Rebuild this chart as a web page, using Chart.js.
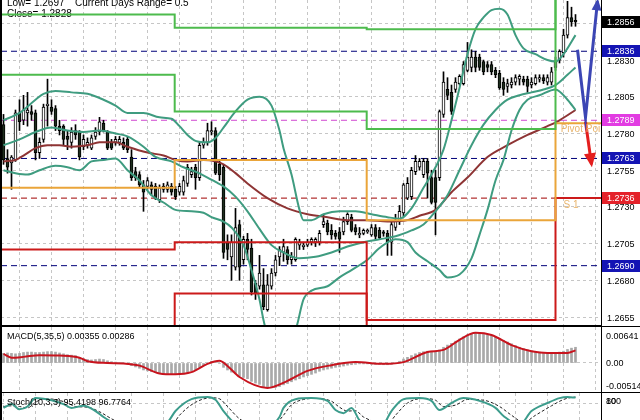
<!DOCTYPE html>
<html>
<head>
<meta charset="utf-8">
<script src="https://cdn.jsdelivr.net/npm/chart.js@4.4.1/dist/chart.umd.min.js"></script>
<style>
  html, body { margin: 0; padding: 0; background: #fff; overflow: hidden; width: 640px; height: 420px; }
  canvas { position: absolute; left: 0; }
  #main { top: 0; }
  #macd { top: 326px; }
  #stoch { top: 392px; }
</style>
</head>
<body>
<canvas id="main" width="640" height="326"></canvas>
<canvas id="macd" width="640" height="67"></canvas>
<canvas id="stoch" width="640" height="40"></canvas>
<script>
// candles (one per bar, left to right)
const open = [
  1.2786,1.2763,1.2760,1.2762,1.2794,1.2789,1.2794,1.2795,1.2794,1.2767,
  1.2776,1.2799,1.2798,1.2797,1.2785,1.2785,1.2778,1.2774,1.2782,1.2781,
  1.2771,1.2772,1.2770,1.2778,1.2781,1.2787,1.2781,1.2774,1.2774,1.2774,
  1.2774,1.2776,1.2764,1.2754,1.2752,1.2745,1.2744,1.2745,1.2744,1.2735,
  1.2742,1.2742,1.2744,1.2742,1.2740,1.2740,1.2746,1.2752,1.2757,1.2750,
  1.2772,1.2774,1.2781,1.2782,1.2759,1.2757,1.2706,1.2696,1.2689,1.2718,
  1.2694,1.2708,1.2702,1.2678,1.2676,1.2677,1.2660,1.2676,1.2685,1.2696,
  1.2699,1.2701,1.2694,1.2694,1.2704,1.2703,1.2704,1.2706,1.2706,1.2706,
  1.2718,1.2719,1.2714,1.2712,1.2713,1.2713,1.2720,1.2723,1.2716,1.2711,
  1.2712,1.2713,1.2711,1.2716,1.2714,1.2713,1.2712,1.2706,1.2716,1.2720,
  1.2726,1.2736,1.2737,1.2754,1.2757,1.2752,1.2761,1.2750,1.2750,1.2750,
  1.2793,1.2810,1.2808,1.2810,1.2814,1.2814,1.2823,1.2825,1.2832,1.2832,
  1.2829,1.2827,1.2827,1.2823,1.2821,1.2815,1.2812,1.2813,1.2815,1.2817,
  1.2817,1.2817,1.2813,1.2814,1.2817,1.2818,1.2815,1.2815,1.2825,1.2830,
  1.2835,1.2847,1.2859,1.2857
];
const high = [
  1.2793,1.2769,1.2765,1.2796,1.2803,1.2806,1.2808,1.2799,1.2796,1.2777,
  1.2800,1.2817,1.2803,1.2799,1.2789,1.2786,1.2782,1.2784,1.2786,1.2782,
  1.2779,1.2777,1.2779,1.2784,1.2791,1.2789,1.2782,1.2776,1.2778,1.2778,
  1.2777,1.2778,1.2769,1.2757,1.2754,1.2748,1.2750,1.2747,1.2746,1.2745,
  1.2746,1.2747,1.2746,1.2744,1.2746,1.2751,1.2759,1.2757,1.2759,1.2774,
  1.2777,1.2787,1.2788,1.2784,1.2762,1.2759,1.2711,1.2711,1.2729,1.2721,
  1.2710,1.2712,1.2708,1.2680,1.2697,1.2688,1.2684,1.2688,1.2697,1.2703,
  1.2708,1.2703,1.2699,1.2709,1.2708,1.2706,1.2708,1.2709,1.2709,1.2714,
  1.2725,1.2721,1.2718,1.2714,1.2716,1.2723,1.2726,1.2725,1.2718,1.2716,
  1.2715,1.2715,1.2718,1.2718,1.2716,1.2714,1.2714,1.2720,1.2725,1.2731,
  1.2746,1.2750,1.2757,1.2765,1.2763,1.2763,1.2763,1.2755,1.2755,1.2796,
  1.2822,1.2818,1.2813,1.2818,1.2820,1.2829,1.2842,1.2837,1.2836,1.2834,
  1.2830,1.2829,1.2829,1.2825,1.2823,1.2818,1.2817,1.2818,1.2820,1.2820,
  1.2819,1.2819,1.2818,1.2820,1.2820,1.2820,1.2820,1.2825,1.2832,1.2837,
  1.2851,1.2870,1.2866,1.2861
];
const low = [
  1.2759,1.2753,1.2742,1.2761,1.2782,1.2786,1.2785,1.2789,1.2762,1.2763,
  1.2774,1.2785,1.2793,1.2782,1.2779,1.2772,1.2769,1.2770,1.2776,1.2762,
  1.2769,1.2770,1.2769,1.2776,1.2779,1.2781,1.2769,1.2769,1.2772,1.2772,
  1.2769,1.2767,1.2748,1.2748,1.2743,1.2727,1.2742,1.2738,1.2735,1.2733,
  1.2740,1.2740,1.2738,1.2735,1.2738,1.2738,1.2744,1.2750,1.2742,1.2748,
  1.2770,1.2772,1.2779,1.2752,1.2748,1.2695,1.2694,1.2680,1.2687,1.2680,
  1.2691,1.2694,1.2670,1.2667,1.2674,1.2660,1.2659,1.2674,1.2683,1.2690,
  1.2693,1.2691,1.2691,1.2693,1.2701,1.2701,1.2703,1.2704,1.2703,1.2704,
  1.2716,1.2711,1.2708,1.2708,1.2699,1.2711,1.2718,1.2713,1.2711,1.2709,
  1.2711,1.2712,1.2710,1.2708,1.2708,1.2710,1.2697,1.2697,1.2714,1.2718,
  1.2724,1.2735,1.2735,1.2752,1.2755,1.2750,1.2736,1.2732,1.2711,1.2748,
  1.2791,1.2803,1.2793,1.2808,1.2813,1.2813,1.2822,1.2822,1.2822,1.2823,
  1.2820,1.2822,1.2820,1.2818,1.2810,1.2806,1.2808,1.2811,1.2813,1.2813,
  1.2813,1.2808,1.2811,1.2813,1.2815,1.2814,1.2813,1.2813,1.2823,1.2828,
  1.2832,1.2845,1.2853,1.2853
];
const close = [
  1.2762,1.2757,1.2764,1.2794,1.2788,1.2796,1.2796,1.2793,1.2767,1.2774,
  1.2798,1.2800,1.2795,1.2785,1.2782,1.2776,1.2776,1.2781,1.2779,1.2764,
  1.2776,1.2774,1.2777,1.2781,1.2788,1.2782,1.2770,1.2770,1.2776,1.2776,
  1.2770,1.2769,1.2750,1.2750,1.2745,1.2740,1.2748,1.2742,1.2736,1.2743,
  1.2744,1.2745,1.2740,1.2737,1.2744,1.2748,1.2757,1.2754,1.2750,1.2772,
  1.2774,1.2782,1.2782,1.2753,1.2752,1.2699,1.2701,1.2706,1.2716,1.2689,
  1.2708,1.2701,1.2672,1.2671,1.2685,1.2662,1.2677,1.2685,1.2694,1.2701,
  1.2703,1.2694,1.2696,1.2708,1.2706,1.2704,1.2706,1.2708,1.2708,1.2712,
  1.2720,1.2713,1.2711,1.2710,1.2708,1.2720,1.2725,1.2714,1.2713,1.2712,
  1.2714,1.2714,1.2716,1.2710,1.2709,1.2712,1.2706,1.2718,1.2721,1.2727,
  1.2745,1.2746,1.2755,1.2761,1.2761,1.2761,1.2753,1.2733,1.2733,1.2795,
  1.2815,1.2806,1.2795,1.2815,1.2819,1.2827,1.2832,1.2832,1.2825,1.2825,
  1.2822,1.2825,1.2822,1.2820,1.2811,1.2810,1.2814,1.2815,1.2818,1.2819,
  1.2815,1.2812,1.2815,1.2818,1.2818,1.2816,1.2818,1.2822,1.2829,1.2836,
  1.2847,1.2859,1.2856,1.2856
];

// price axis
const priceTicks = [1.2655, 1.2680, 1.2705, 1.2730, 1.2755, 1.2780, 1.2805, 1.2830, 1.2855];
const gridIdx = [0, 8, 16, 24, 32, 40, 48, 56, 64, 72, 80, 88, 96, 104, 112, 120, 128, 136, 144];

// daily pivot levels (step changes at the day breaks)
const pivotIdx = [-0.625, 42.8, 90.8, 138, 149.375];
const r2 = [1.2861, 1.2852, 1.2851, 1.2930, 1.2930];
const r1 = [1.2820, 1.2795, 1.2783, 1.2878, 1.2878];
const pp = [1.2743, 1.2762, 1.2721, 1.2787, 1.2787];
const s1 = [1.2701, 1.2706, 1.2653, 1.2736, 1.2736];
const s2 = [1.2624, 1.2671, 1.2592, 1.2640, 1.2640];

// horizontal dashed levels and the price tags on the axis
const levelVals = [1.2836, 1.2789, 1.2763, 1.2736, 1.2690];
const levelColors = ['#00007a', '#d048d0', '#00007a', '#a00000', '#00007a'];
const tagVals = [1.2856, 1.2836, 1.2789, 1.2763, 1.2736, 1.2690];
const tagColors = ['#000000', '#1414b4', '#e23ce2', '#1414b4', '#e4222a', '#1414b4'];

// bollinger bands and moving average (sampled along the curve)
const upIdx = [0,4,8,10,13,17,21,25,28,31,35,39,42,44,46,48,51,53,55,58,61,64,67,69,70,72,74,75,77,80,84,88,92,96,99,102,105,108,110,112,114,116,118,120,122,124,126,128,130,133,136,138,140,143];
const upVal = [1.2789,1.2794,1.2803,1.2807,1.2809,1.2808,1.2807,1.2803,1.2799,1.2794,1.2794,1.2791,1.2790,1.2785,1.2779,1.2775,1.2774,1.2777,1.2784,1.2795,1.2803,1.2805,1.2799,1.2782,1.2770,1.2752,1.2728,1.2721,1.2721,1.2725,1.2727,1.2727,1.2725,1.2723,1.2722,1.2729,1.2743,1.2757,1.2769,1.2789,1.2811,1.2834,1.2851,1.2859,1.2864,1.2865,1.2861,1.2847,1.2838,1.2834,1.2830,1.2829,1.2834,1.2847];
const midIdx = [0,4,8,12,16,20,24,28,31,35,38,42,45,48,51,53,55,58,61,64,67,70,74,78,82,86,90,94,98,102,105,108,111,114,117,120,123,126,129,132,135,138,141,143];
const midVal = [1.2772,1.2776,1.2781,1.2784,1.2782,1.2781,1.2782,1.2780,1.2778,1.2771,1.2764,1.2761,1.2757,1.2754,1.2750,1.2747,1.2744,1.2737,1.2727,1.2715,1.2704,1.2699,1.2695,1.2696,1.2699,1.2703,1.2706,1.2708,1.2710,1.2714,1.2718,1.2727,1.2738,1.2755,1.2772,1.2786,1.2796,1.2803,1.2806,1.2808,1.2810,1.2813,1.2820,1.2825];
const lowIdx = [0,3,6,9,13,16,19,22,25,28,31,34,37,40,43,47,50,52,55,57,60,62,64,65,66,70,73,75,77,81,84,87,91,94,98,101,103,106,109,111,114,117,119,121,123,125,127,129,131,134,138,141,143];
const lowVal = [1.2755,1.2753,1.2752,1.2755,1.2758,1.2757,1.2755,1.2761,1.2762,1.2763,1.2755,1.2748,1.2738,1.2733,1.2728,1.2727,1.2726,1.2723,1.2720,1.2716,1.2704,1.2687,1.2667,1.2653,1.2643,1.2636,1.2646,1.2667,1.2673,1.2676,1.2682,1.2687,1.2694,1.2702,1.2708,1.2706,1.2699,1.2693,1.2687,1.2682,1.2684,1.2695,1.2711,1.2728,1.2748,1.2762,1.2782,1.2796,1.2803,1.2806,1.2810,1.2803,1.2796];
const maIdx = [0,3,5,8,11,14,17,21,24,28,31,36,40,43,46,50,53,55,58,61,66,71,76,81,86,91,96,101,104,108,112,116,121,126,131,136,139,143];
const maVal = [1.2761,1.2762,1.2765,1.2770,1.2772,1.2772,1.2771,1.2772,1.2774,1.2774,1.2771,1.2767,1.2765,1.2762,1.2761,1.2762,1.2761,1.2759,1.2753,1.2746,1.2736,1.2729,1.2725,1.2723,1.2721,1.2721,1.2720,1.2721,1.2724,1.2728,1.2740,1.2750,1.2764,1.2772,1.2779,1.2785,1.2789,1.2796];

// forecast arrows
const blueIdx = [143.5, 145.5, 148.5];
const blueVal = [1.2837, 1.2791, 1.2870];
const redIdx = [145.5, 147];
const redVal = [1.2788, 1.2759];

// MACD(5,35,5)
const macdHist = [
  0.0022,0.0023,0.0022,0.0021,0.0022,0.0024,0.0025,0.0025,0.0024,0.0024,
  0.0025,0.0026,0.0026,0.0025,0.0023,0.0021,0.0019,0.0018,0.0017,0.0013,
  0.0010,0.0008,0.0007,0.0008,0.0009,0.0008,0.0005,0.0003,0.0002,0.0001,
  0.0000,-0.0002,-0.0006,-0.0009,-0.0012,-0.0016,-0.0018,-0.0020,-0.0022,-0.0023,
  -0.0024,-0.0025,-0.0025,-0.0026,-0.0026,-0.0024,-0.0021,-0.0018,-0.0016,-0.0010,
  -0.0006,-0.0001,0.0004,0.0002,-0.0001,-0.0010,-0.0016,-0.0021,-0.0024,-0.0030,
  -0.0033,-0.0036,-0.0042,-0.0046,-0.0049,-0.0054,-0.0056,-0.0057,-0.0056,-0.0054,
  -0.0050,-0.0047,-0.0043,-0.0039,-0.0036,-0.0032,-0.0029,-0.0026,-0.0023,-0.0019,
  -0.0016,-0.0014,-0.0012,-0.0010,-0.0009,-0.0007,-0.0005,-0.0004,-0.0003,-0.0002,
  -0.0002,-0.0002,-0.0003,-0.0003,-0.0003,-0.0004,-0.0004,-0.0003,0.0000,0.0004,
  0.0009,0.0013,0.0017,0.0021,0.0024,0.0026,0.0027,0.0027,0.0027,0.0030,
  0.0036,0.0041,0.0045,0.0050,0.0055,0.0060,0.0064,0.0067,0.0068,0.0068,
  0.0067,0.0065,0.0063,0.0060,0.0056,0.0052,0.0048,0.0044,0.0040,0.0036,
  0.0033,0.0030,0.0028,0.0026,0.0025,0.0024,0.0024,0.0024,0.0024,0.0025,
  0.0027,0.0031,0.0034,0.0036
];
const sigIdx = [0,2,5,9,14,19,21,26,30,34,39,43,47,51,54,56,59,66,71,76,82,88,95,100,106,110,114,118,122,127,132,136,141,143];
const sigVal = [0.0021,0.0012,0.0014,0.0018,0.0017,0.0012,0.0004,0.0000,-0.0001,-0.0006,-0.0024,-0.0026,-0.0021,-0.0002,0.0005,-0.0007,-0.0032,-0.0057,-0.0041,-0.0018,-0.0005,0.0002,-0.0002,0.0002,0.0025,0.0030,0.0053,0.0069,0.0064,0.0041,0.0027,0.0023,0.0023,0.0029];

// Stoch(10,3,3)
const stIdx = [0,1,2,4,6,8,10,12,15,17,20,23,25,28,32,36,41,43,47,51,53,55,58,62,66,69,70,73,77,81,83,85,87,89,94,97,100,104,107,109,112,115,119,123,125,129,132,136,139,141,143];
const stVal = [66,72,77,62,70,94,92,88,77,66,72,57,40,20,8,5,25,57,91,97,89,57,20,5,10,40,66,91,94,86,60,51,66,31,5,57,91,94,86,60,80,94,86,66,43,17,57,80,94,97,95.4];
const sgIdx = [0,2,4,6,8,10,13,16,18,21,24,27,30,36,42,44,48,52,54,56,59,64,68,70,72,75,78,82,84,86,88,90,96,98,101,105,108,110,113,116,120,124,127,130,133,137,140,142,143];
const sgVal = [70,72,70,66,82,92,90,80,70,68,55,35,18,5,15,45,82,95,92,70,35,10,20,45,75,90,93,85,68,57,58,40,20,45,80,93,88,70,74,90,88,70,45,25,45,72,90,96,96.8];

const FONT = '"Liberation Sans", Arial, sans-serif';
const GRID = '#c6c6c6';
const X_MIN = -0.625, X_MAX = 149.375;

Chart.defaults.font.family = FONT;
Chart.defaults.animation = false;

function pts(ix, vals) {
  return ix.map((x, k) => ({ x: x, y: vals[k] }));
}

function xAxis() {
  return {
    type: 'linear', min: X_MIN, max: X_MAX, offset: false,
    ticks: { display: false },
    grid: { color: GRID, drawTicks: false },
    border: { display: false, dash: [3, 3] },
    afterBuildTicks: s => { s.ticks = gridIdx.map(v => ({ value: v })); },
    afterFit: s => { s.height = 0; }
  };
}

function yAxis(min, max, ticks) {
  return {
    position: 'right', min: min, max: max,
    ticks: { display: false },
    grid: { color: GRID, drawTicks: false },
    border: { display: false, dash: [3, 3] },
    afterBuildTicks: s => { s.ticks = ticks.map(v => ({ value: v })); },
    afterFit: s => { s.width = 39; }
  };
}

function lineSet(data, color, width, order, extra) {
  return Object.assign({
    type: 'line', data: data, borderColor: color, borderWidth: width,
    pointRadius: 0, fill: false, order: order
  }, extra || {});
}

function arrowHead(ctx, from, to, color, size) {
  const a = Math.atan2(to.y - from.y, to.x - from.x);
  const c = Math.cos(a), s = Math.sin(a);
  ctx.fillStyle = color;
  ctx.beginPath();
  ctx.moveTo(to.x + c * 3, to.y + s * 3);
  ctx.lineTo(to.x - c * size - s * size * 0.55, to.y - s * size + c * size * 0.55);
  ctx.lineTo(to.x - c * size + s * size * 0.55, to.y - s * size - c * size * 0.55);
  ctx.closePath();
  ctx.fill();
}

const candleIdx = close.map((_, i) => i);

const mainDecor = {
  id: 'mainDecor',
  beforeDatasetsDraw(chart) {
    const ctx = chart.ctx;
    ctx.save();
    ctx.fillStyle = '#000';
    ctx.font = '10px ' + FONT;
    ctx.fillText('Low= 1.2697', 7, 6);
    ctx.fillText('Current Days Range= 0.5', 75, 6);
    ctx.fillText('Close= 1.2828', 7, 17);
    ctx.restore();
  },
  afterDatasetsDraw(chart) {
    const ctx = chart.ctx;
    const ca = chart.chartArea;
    const xs = chart.scales.x, ys = chart.scales.y;
    ctx.save();
    ctx.beginPath();
    ctx.rect(ca.left, ca.top, ca.right - ca.left, ca.bottom - ca.top);
    ctx.clip();
    ctx.font = '10px ' + FONT;
    ctx.textBaseline = 'top';
    ctx.fillStyle = '#e8b46c';
    ctx.fillText('Pivot Point', xs.getPixelForValue(139.3), ys.getPixelForValue(pp[3]) + 1);
    ctx.fillText('S 1', xs.getPixelForValue(140), ys.getPixelForValue(s1[3]) + 2);
    const blue = chart.getDatasetMeta(0).data;
    const red = chart.getDatasetMeta(1).data;
    arrowHead(ctx, blue[blue.length - 2], blue[blue.length - 1], '#3c46b4', 9);
    arrowHead(ctx, red[red.length - 2], red[red.length - 1], '#e41e1e', 11);
    ctx.restore();
  },
  afterDraw(chart) {
    const ctx = chart.ctx;
    const ca = chart.chartArea;
    const ys = chart.scales.y;
    ctx.save();
    ctx.fillStyle = '#000';
    ctx.fillRect(0, 0, 2, ca.bottom + 1);
    ctx.fillRect(Math.round(ca.right), 0, 1, ca.bottom + 1);
    ctx.fillRect(0, Math.round(ca.bottom), Math.round(ca.right) + 1, 1);
    ctx.font = '9px ' + FONT;
    ctx.textBaseline = 'middle';
    priceTicks.forEach(v => {
      ctx.fillStyle = '#000';
      ctx.fillText(v.toFixed(4), ca.right + 6, ys.getPixelForValue(v) + 1);
    });
    tagVals.forEach((v, k) => {
      const y = Math.round(ys.getPixelForValue(v));
      ctx.fillStyle = tagColors[k];
      ctx.fillRect(Math.round(ca.right) + 1, y - 6, 39, 12);
      ctx.fillStyle = '#fff';
      ctx.fillText(v.toFixed(4), ca.right + 6, y + 1);
    });
    ctx.restore();
  }
};

new Chart(document.getElementById('main'), {
  type: 'bar',
  data: {
    datasets: [
      lineSet(pts(blueIdx, blueVal), '#3c46b4', 3, 0),
      lineSet(pts(redIdx, redVal), '#e41e1e', 3, 0),
      lineSet(pts(pivotIdx, r2), '#4dbb4d', 2, 1, { stepped: 'before' }),
      lineSet(pts(pivotIdx, r1), '#4dbb4d', 2, 1, { stepped: 'before' }),
      lineSet(pts(pivotIdx, pp), '#eaa53a', 2, 1, { stepped: 'before' }),
      lineSet(pts(pivotIdx, s1), '#cc1a1a', 2, 1, { stepped: 'before' }),
      lineSet(pts(pivotIdx, s2), '#cc1a1a', 2, 1, { stepped: 'before' }),
      lineSet(pts(upIdx, upVal), '#3f9c80', 2, 2, { cubicInterpolationMode: 'monotone' }),
      lineSet(pts(midIdx, midVal), '#3f9c80', 2, 2, { cubicInterpolationMode: 'monotone' }),
      lineSet(pts(lowIdx, lowVal), '#3f9c80', 2, 2, { cubicInterpolationMode: 'monotone' }),
      lineSet(pts(maIdx, maVal), '#8e3434', 2, 2, { cubicInterpolationMode: 'monotone' }),
      {
        data: candleIdx.map(i => ({ x: i, y: [open[i], close[i]] })),
        backgroundColor: candleIdx.map(i => close[i] >= open[i] ? '#ffffff' : '#1e2e1e'),
        borderColor: '#000', borderWidth: 1, borderSkipped: false,
        barThickness: 3, grouped: false, order: 3
      },
      {
        data: candleIdx.map(i => ({ x: i, y: [low[i], high[i]] })),
        backgroundColor: '#000', borderWidth: 0,
        barThickness: 1, grouped: false, order: 4
      },
      ...levelVals.map((v, k) => lineSet(pts([X_MIN, X_MAX], [v, v]), levelColors[k], 1, 5, { borderDash: [6, 4] }))
    ]
  },
  options: {
    responsive: false, animation: false, events: [],
    layout: { padding: { left: 1, top: 0, right: 0, bottom: 1 } },
    plugins: { legend: { display: false }, tooltip: { enabled: false } },
    scales: {
      x: xAxis(),
      y: yAxis(1.26496, 1.28709, priceTicks)
    }
  },
  plugins: [mainDecor]
});

function paneFrame(chart, title, labels) {
  const ctx = chart.ctx;
  const ca = chart.chartArea;
  const ys = chart.scales.y;
  ctx.save();
  ctx.fillStyle = '#000';
  ctx.fillRect(0, Math.round(ca.top) - 1, 640, 1);
  ctx.fillRect(0, Math.round(ca.bottom), 640, 1);
  ctx.fillRect(0, 0, 2, chart.height);
  ctx.fillRect(Math.round(ca.right), 0, 1, chart.height);
  ctx.font = '9px ' + FONT;
  ctx.textBaseline = 'middle';
  ctx.fillText(title, 7, ca.top + 10);
  labels.forEach(l => ctx.fillText(l[0], ca.right + 5, ys.getPixelForValue(l[1]) + (l[2] || 0)));
  ctx.restore();
}

new Chart(document.getElementById('macd'), {
  type: 'bar',
  data: {
    datasets: [
      lineSet(pts(sigIdx, sigVal), '#c8141e', 2, 0, { cubicInterpolationMode: 'monotone' }),
      {
        data: candleIdx.map(i => ({ x: i, y: macdHist[i] })),
        backgroundColor: '#a9a9a9', barThickness: 2, grouped: false, order: 1
      }
    ]
  },
  options: {
    responsive: false, animation: false, events: [],
    layout: { padding: { left: 1, top: 1, right: 0, bottom: 1 } },
    plugins: { legend: { display: false }, tooltip: { enabled: false } },
    scales: {
      x: xAxis(),
      y: yAxis(-0.00664, 0.00824, [0])
    }
  },
  plugins: [{
    id: 'macdFrame',
    afterDraw(chart) {
      paneFrame(chart, 'MACD(5,35,5) 0.00355 0.00286',
        [['0.00641', 0.00641, 2], ['0.00', 0, 1], ['-0.00514', -0.00514, 1]]);
    }
  }]
});

new Chart(document.getElementById('stoch'), {
  type: 'line',
  data: {
    datasets: [
      lineSet(pts(stIdx, stVal), '#3c9c8c', 2, 0, { cubicInterpolationMode: 'monotone' }),
      lineSet(pts(sgIdx, sgVal), '#202020', 1, 1, { borderDash: [3, 2], cubicInterpolationMode: 'monotone' })
    ]
  },
  options: {
    responsive: false, animation: false, events: [],
    layout: { padding: { left: 1, top: 1, right: 0, bottom: 1 } },
    plugins: { legend: { display: false }, tooltip: { enabled: false } },
    scales: {
      x: xAxis(),
      y: yAxis(0, 108.6, [20, 80])
    }
  },
  plugins: [{
    id: 'stochFrame',
    afterDraw(chart) {
      paneFrame(chart, 'Stoch(10,3,3) 95.4198 96.7764',
        [['100', 80, -1], ['80', 80, -1]]);
    }
  }]
});
</script>
</body>
</html>
